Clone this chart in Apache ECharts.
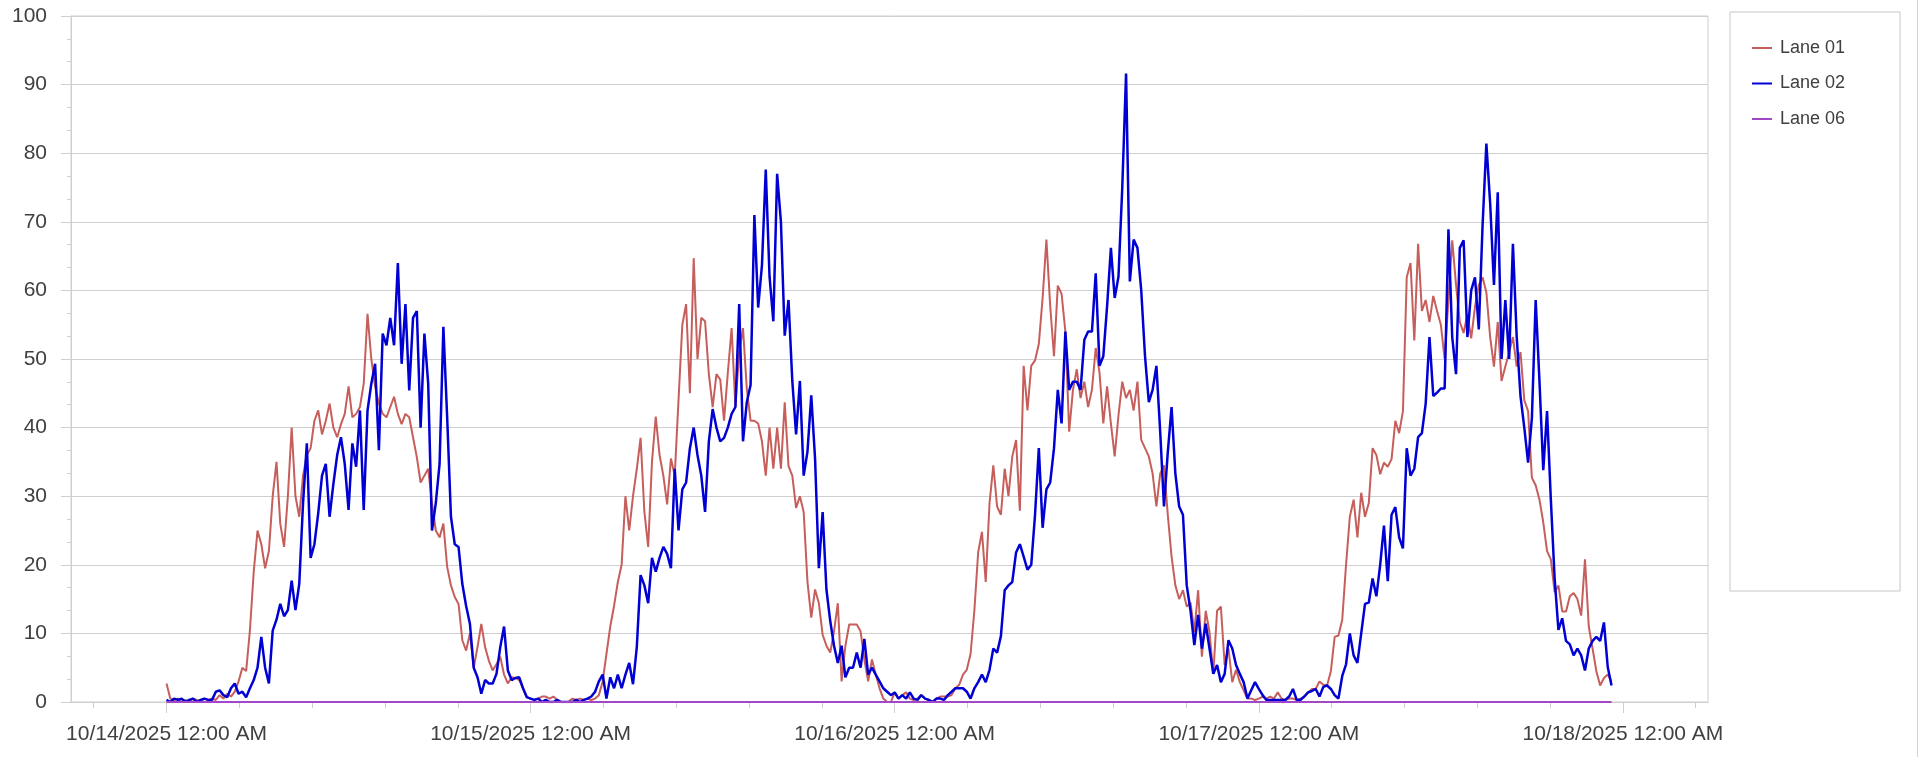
<!DOCTYPE html>
<html>
<head>
<meta charset="utf-8">
<script src="https://cdn.jsdelivr.net/npm/echarts@6.0.0/dist/echarts.min.js"></script>
<style>
  html, body { margin: 0; padding: 0; background: #ffffff; }
  #chart { width: 1919px; height: 757px; }
  #edge { position: absolute; left: 1917px; top: 0; width: 1px; height: 757px; background: #d4d4d4; }
</style>
</head>
<body>
<div id="chart"></div>
<div id="edge"></div>
<script>
// ---- data (15-minute samples starting 10/14/2025 12:00 AM) ----
const stepMinutes = 15;
const seriesNames = ['Lane 01', 'Lane 02', 'Lane 06'];
const xTickDays = [0, 1, 2, 3, 4];
const xTickLabels = ['10/14/2025 12:00 AM', '10/15/2025 12:00 AM', '10/16/2025 12:00 AM', '10/17/2025 12:00 AM', '10/18/2025 12:00 AM'];
const yTicks = [0, 10, 20, 30, 40, 50, 60, 70, 80, 90, 100];

const lane01 = [
  // 10/14
  2.7,0.5,0.3,0.5,0,0.3,0,0.5,0.3,0,
  0.5,0.3,0.5,0.3,1,0.5,1.2,0.8,1.5,3,
  5,4.5,10.5,19,25,23,19.5,22,30,35,
  26,22.6,30,40,30,27,33,36,37,41,
  42.5,39,41,43.5,40,38.6,40.5,42,46,41.5,
  42,43,46.4,56.6,50,46,43.5,42,41.5,43,
  44.5,42,40.5,42,41.5,38.6,35.7,32,33,34,
  29,25,24,26,19.7,17,15.3,14.3,9,7.5,
  10,5,8,11.4,8,6,4.6,5.5,6.6,4,
  2.7,3.6,3.5,3.2,2,0.7,
  // 10/15
  0.5,0.3,0.5,0.8,0.8,0.5,0.8,0.3,0,0,
  0,0.5,0.3,0.5,0.3,0.5,0.3,0.5,1,3,
  7,11,14,17.5,20,30,25,30,34,38.5,
  27.7,22.6,35,41.6,36,33,28.8,35.5,33,44,
  55,58,45,64.7,50,56,55.5,47.8,43,47.8,
  47,41,48,54.5,43,51,54.5,45.7,41,41,
  40.6,38,33,40,34,40,34,43.7,34.4,33,
  28.3,30,27.7,17.5,12.3,16.4,14.4,9.8,8.2,7.2,
  10.3,14.4,3,8.2,11.3,11.3,11.3,10.3,6.2,3,
  6.2,4,2,0.5,0,0,
  // 10/16
  1.4,0.5,1,1.4,0.5,0.3,0.5,1,0.5,0.3,
  0,0.5,0.8,0.8,0.8,1,2,2.5,4,4.7,
  7,13.3,21.8,24.8,17.5,29,34.5,28.5,27.3,34,
  30,35.8,38.2,27.9,49,42.5,49,49.8,52.2,58.9,
  67.4,57.7,50.4,60.7,59.5,54,39.4,45.5,48.5,44.3,
  46.7,43,45.5,51.6,48,40.6,46,40.6,35.8,41.8,
  46.7,44.3,45.5,42.5,46.7,38.2,37,35.8,33.3,28.5,
  33.3,34.5,27.3,21.2,17,15,16.3,13.9,14.5,10.2,
  16.3,6.6,13.3,10.2,4.1,13.3,13.9,5.4,7.8,2.9,
  4.7,2.9,1.7,0.5,0.5,0.3,
  // 10/17
  0.5,0.8,0.5,0.8,0.5,1.4,0.5,0.3,0.5,0.5,
  0.3,0.5,0.8,1.4,1.9,1.9,3,2.5,2.4,4.5,
  9.5,9.7,12,20,27,29.5,24,30.5,27,29,
  37,36,33.2,34.9,34.3,35.4,41,39.2,42.4,61.9,
  64,52.7,66.8,57,58.6,55.4,59.2,57,55,50,
  58.6,67.3,60.8,55.4,53.8,56.5,53,57.6,60.8,61.9,
  59.7,53.2,48.9,55.4,46.8,48.9,51,53.2,48.9,51,
  44,42.4,32.7,31.6,29.5,26.2,22,20.8,16,17,
  13.2,13.2,15.4,15.9,15,12.6,20.8,11,7.8,4.5,
  2.4,3.5,4,3
];

const lane02 = [
  // 10/14
  0.3,0,0.5,0.3,0.5,0,0.3,0.5,0,0.3,
  0.5,0.3,0.3,1.5,1.7,1,0.7,2,2.7,1.2,
  1.5,0.7,2,3.2,5,9.5,5,2.7,10.4,12,
  14.3,12.5,13.4,17.7,13.4,17.2,29,37.7,21,23,
  27.5,33,34.7,27,31.8,36,38.6,34.7,28,37.7,
  34.3,42.5,28,42.5,46.4,49.3,36.7,53.7,52,56,
  52,64,49.3,58,45.4,56,57,40,53.7,46.4,
  25,29,34.7,54.7,41.5,27,23,22.6,17.2,14,
  11.4,5,3.6,1.2,3.2,2.7,2.7,4.1,8,11,
  4.6,3.2,3.5,3.6,2,0.7,
  // 10/15
  0.5,0.3,0.5,0,0.3,0,0,0.3,0,0,
  0,0,0.3,0,0.3,0.5,0.8,1.5,3,4,
  0.5,3.6,2,4,2,4,5.7,2.6,8,18.5,
  17,14.4,21,19,21,22.6,21.6,19.5,34,25,
  31,32,37,40,36,33,27.7,38,42.7,40,
  38,38.5,40,42,43,58,38,43.7,46.2,71,
  57.5,63.7,77.6,62,55.5,77,70,53.4,58.6,46.8,
  39,46.8,33,36.5,44.7,35.5,19.5,27.7,16.4,11.8,
  8.2,5.7,8.2,3.6,5,5,7.2,5,9.2,4,
  5,4,3,2,1.5,1,
  // 10/16
  1.4,0.5,1,0.5,1.4,0.5,0.3,1,0.5,0.3,
  0,0.5,0.5,0.3,1,1.5,2,2,2,1.5,
  0.5,2,2.9,4,2.9,4.7,7.8,7.2,9.6,16.3,
  17,17.5,21.8,23,21.2,19.3,20,27.3,37,25.4,
  31,32,37,45.5,40.6,54,45.5,46.7,46.7,45.5,
  52.8,54,54,62.5,49,50.4,57.7,66.2,58.9,62,
  75,91.6,61.3,67.4,66.2,60,50.4,43.7,45.5,49,
  39.4,28.5,36.4,43,33.3,28.5,27.3,17,13.3,8.3,
  12.7,7.8,11.4,7.8,4.1,5.4,2.9,4.1,9,7.8,
  5.4,4.1,2.9,0.5,1.7,2.9,
  // 10/17
  1.9,1,0.3,0.3,0.3,0.3,0.3,0.3,0.8,1.9,
  0.3,0.3,0.8,1.4,1.6,1.9,0.8,2.2,2.4,1.9,
  1,0.5,3.8,5.5,10,6.8,5.7,10,14.3,14.5,
  18,15.4,20,25.7,17.6,27.3,28.4,24,22.4,37,
  33,34,38.6,39.2,43.5,53.2,44.6,45.1,45.7,45.7,
  68.9,53.2,47.8,66.2,67.3,53.2,60,61.9,54.3,69.5,
  81.4,72.7,60.8,74.3,50,58.6,50,66.8,53.2,44.6,
  40,34.9,41.4,58.6,46.8,33.8,42.4,29.5,18,10.5,
  12.2,8.9,8.4,6.8,7.8,6.8,4.6,7.8,8.9,9.5,
  8.9,11.6,5.1,2.4
];

const lane06 = [
  // 10/14
  0,0,0,0,0,0,0,0,0,0,0,0,0,0,0,0,0,0,0,0,0,0,0,0,0,0,0,0,0,0,0,0,0,0,0,0,0,0,0,0,0,0,0,0,0,0,0,0,
  0,0,0,0,0,0,0,0,0,0,0,0,0,0,0,0,0,0,0,0,0,0,0,0,0,0,0,0,0,0,0,0,0,0,0,0,0,0,0,0,0,0,0,0,0,0,0,0,
  // 10/15
  0,0,0,0,0,0,0,0,0,0,0,0,0,0,0,0,0,0,0,0,0,0,0,0,0,0,0,0,0,0,0,0,0,0,0,0,0,0,0,0,0,0,0,0,0,0,0,0,
  0,0,0,0,0,0,0,0,0,0,0,0,0,0,0,0,0,0,0,0,0,0,0,0,0,0,0,0,0,0,0,0,0,0,0,0,0,0,0,0,0,0,0,0,0,0,0,0,
  // 10/16
  0,0,0,0,0,0,0,0,0,0,0,0,0,0,0,0,0,0,0,0,0,0,0,0,0,0,0,0,0,0,0,0,0,0,0,0,0,0,0,0,0,0,0,0,0,0,0,0,
  0,0,0,0,0,0,0,0,0,0,0,0,0,0,0,0,0,0,0,0,0,0,0,0,0,0,0,0,0,0,0,0,0,0,0,0,0,0,0,0,0,0,0,0,0,0,0,0,
  // 10/17
  0,0,0,0,0,0,0,0,0,0,0,0,0,0,0,0,0,0,0,0,0,0,0,0,0,0,0,0,0,0,0,0,0,0,0,0,0,0,0,0,0,0,0,0,0,0,0,0,
  0,0,0,0,0,0,0,0,0,0,0,0,0,0,0,0,0,0,0,0,0,0,0,0,0,0,0,0,0,0,0,0,0,0,0,0,0,0,0,0,0,0,0,0,0,0
];

// ---- build (x = days since 10/14/2025 12:00 AM) ----
function toPairs(values) {
  return values.map(function (v, i) { return [i * stepMinutes / 1440, v]; });
}

const gridColor = '#cfcfcf';
const labelColor = '#404040';
const font = 'Liberation Sans, Arial, sans-serif';

const chart = echarts.init(document.getElementById('chart'), null, { renderer: 'canvas' });
chart.setOption({
  animation: false,
  backgroundColor: '#ffffff',
  textStyle: { fontFamily: font },
  grid: {
    left: 71, right: 211, top: 16, bottom: 55,
    show: true, borderColor: gridColor, borderWidth: 1, backgroundColor: 'transparent'
  },
  legend: {
    data: seriesNames,
    orient: 'vertical',
    left: 1730, top: 12,
    padding: [27, 55, 463, 22],
    itemGap: 17.5,
    itemWidth: 20, itemHeight: 2,
    icon: 'rect',
    borderColor: '#c6c6c6', borderWidth: 1,
    textStyle: { fontSize: 18, color: labelColor, fontFamily: font, lineHeight: 18, padding: [0, 0, 0, 3] }
  },
  xAxis: {
    type: 'value',
    min: -0.2623, max: 4.2337,
    splitNumber: 4,
    axisLine: { show: true, onZero: false, lineStyle: { color: gridColor, width: 1 } },
    axisTick: { show: true, length: 11, lineStyle: { color: gridColor }, customValues: xTickDays },
    minorTick: { show: true, splitNumber: 5, length: 6, lineStyle: { color: gridColor } },
    splitLine: { show: false },
    minorSplitLine: { show: false },
    axisLabel: {
      show: true, margin: 22, fontSize: 21, color: labelColor, fontFamily: font,
      customValues: xTickDays,
      formatter: function (v) {
        const idx = xTickDays.findIndex(function (d) { return Math.abs(d - v) < 1e-6; });
        return idx >= 0 ? xTickLabels[idx] : '';
      }
    }
  },
  yAxis: {
    type: 'value',
    min: yTicks[0], max: yTicks[yTicks.length - 1], interval: 10,
    axisLine: { show: true, onZero: false, lineStyle: { color: gridColor, width: 1 } },
    axisTick: { show: true, length: 10, lineStyle: { color: gridColor } },
    minorTick: { show: true, splitNumber: 3, length: 4, lineStyle: { color: gridColor } },
    splitLine: { show: true, lineStyle: { color: gridColor, width: 1 } },
    axisLabel: { margin: 24, fontSize: 21, color: labelColor, fontFamily: font }
  },
  series: [
    {
      name: seriesNames[0], type: 'line', data: toPairs(lane01),
      symbol: 'none', showSymbol: false,
      color: '#c65f5b', lineStyle: { color: '#c65f5b', width: 2 }
    },
    {
      name: seriesNames[1], type: 'line', data: toPairs(lane02),
      symbol: 'none', showSymbol: false,
      color: '#0000d4', lineStyle: { color: '#0000d4', width: 2.5 }
    },
    {
      name: seriesNames[2], type: 'line', data: toPairs(lane06),
      symbol: 'none', showSymbol: false,
      color: '#a048c8', lineStyle: { color: '#a048c8', width: 2 }
    }
  ]
});
</script>
</body>
</html>
